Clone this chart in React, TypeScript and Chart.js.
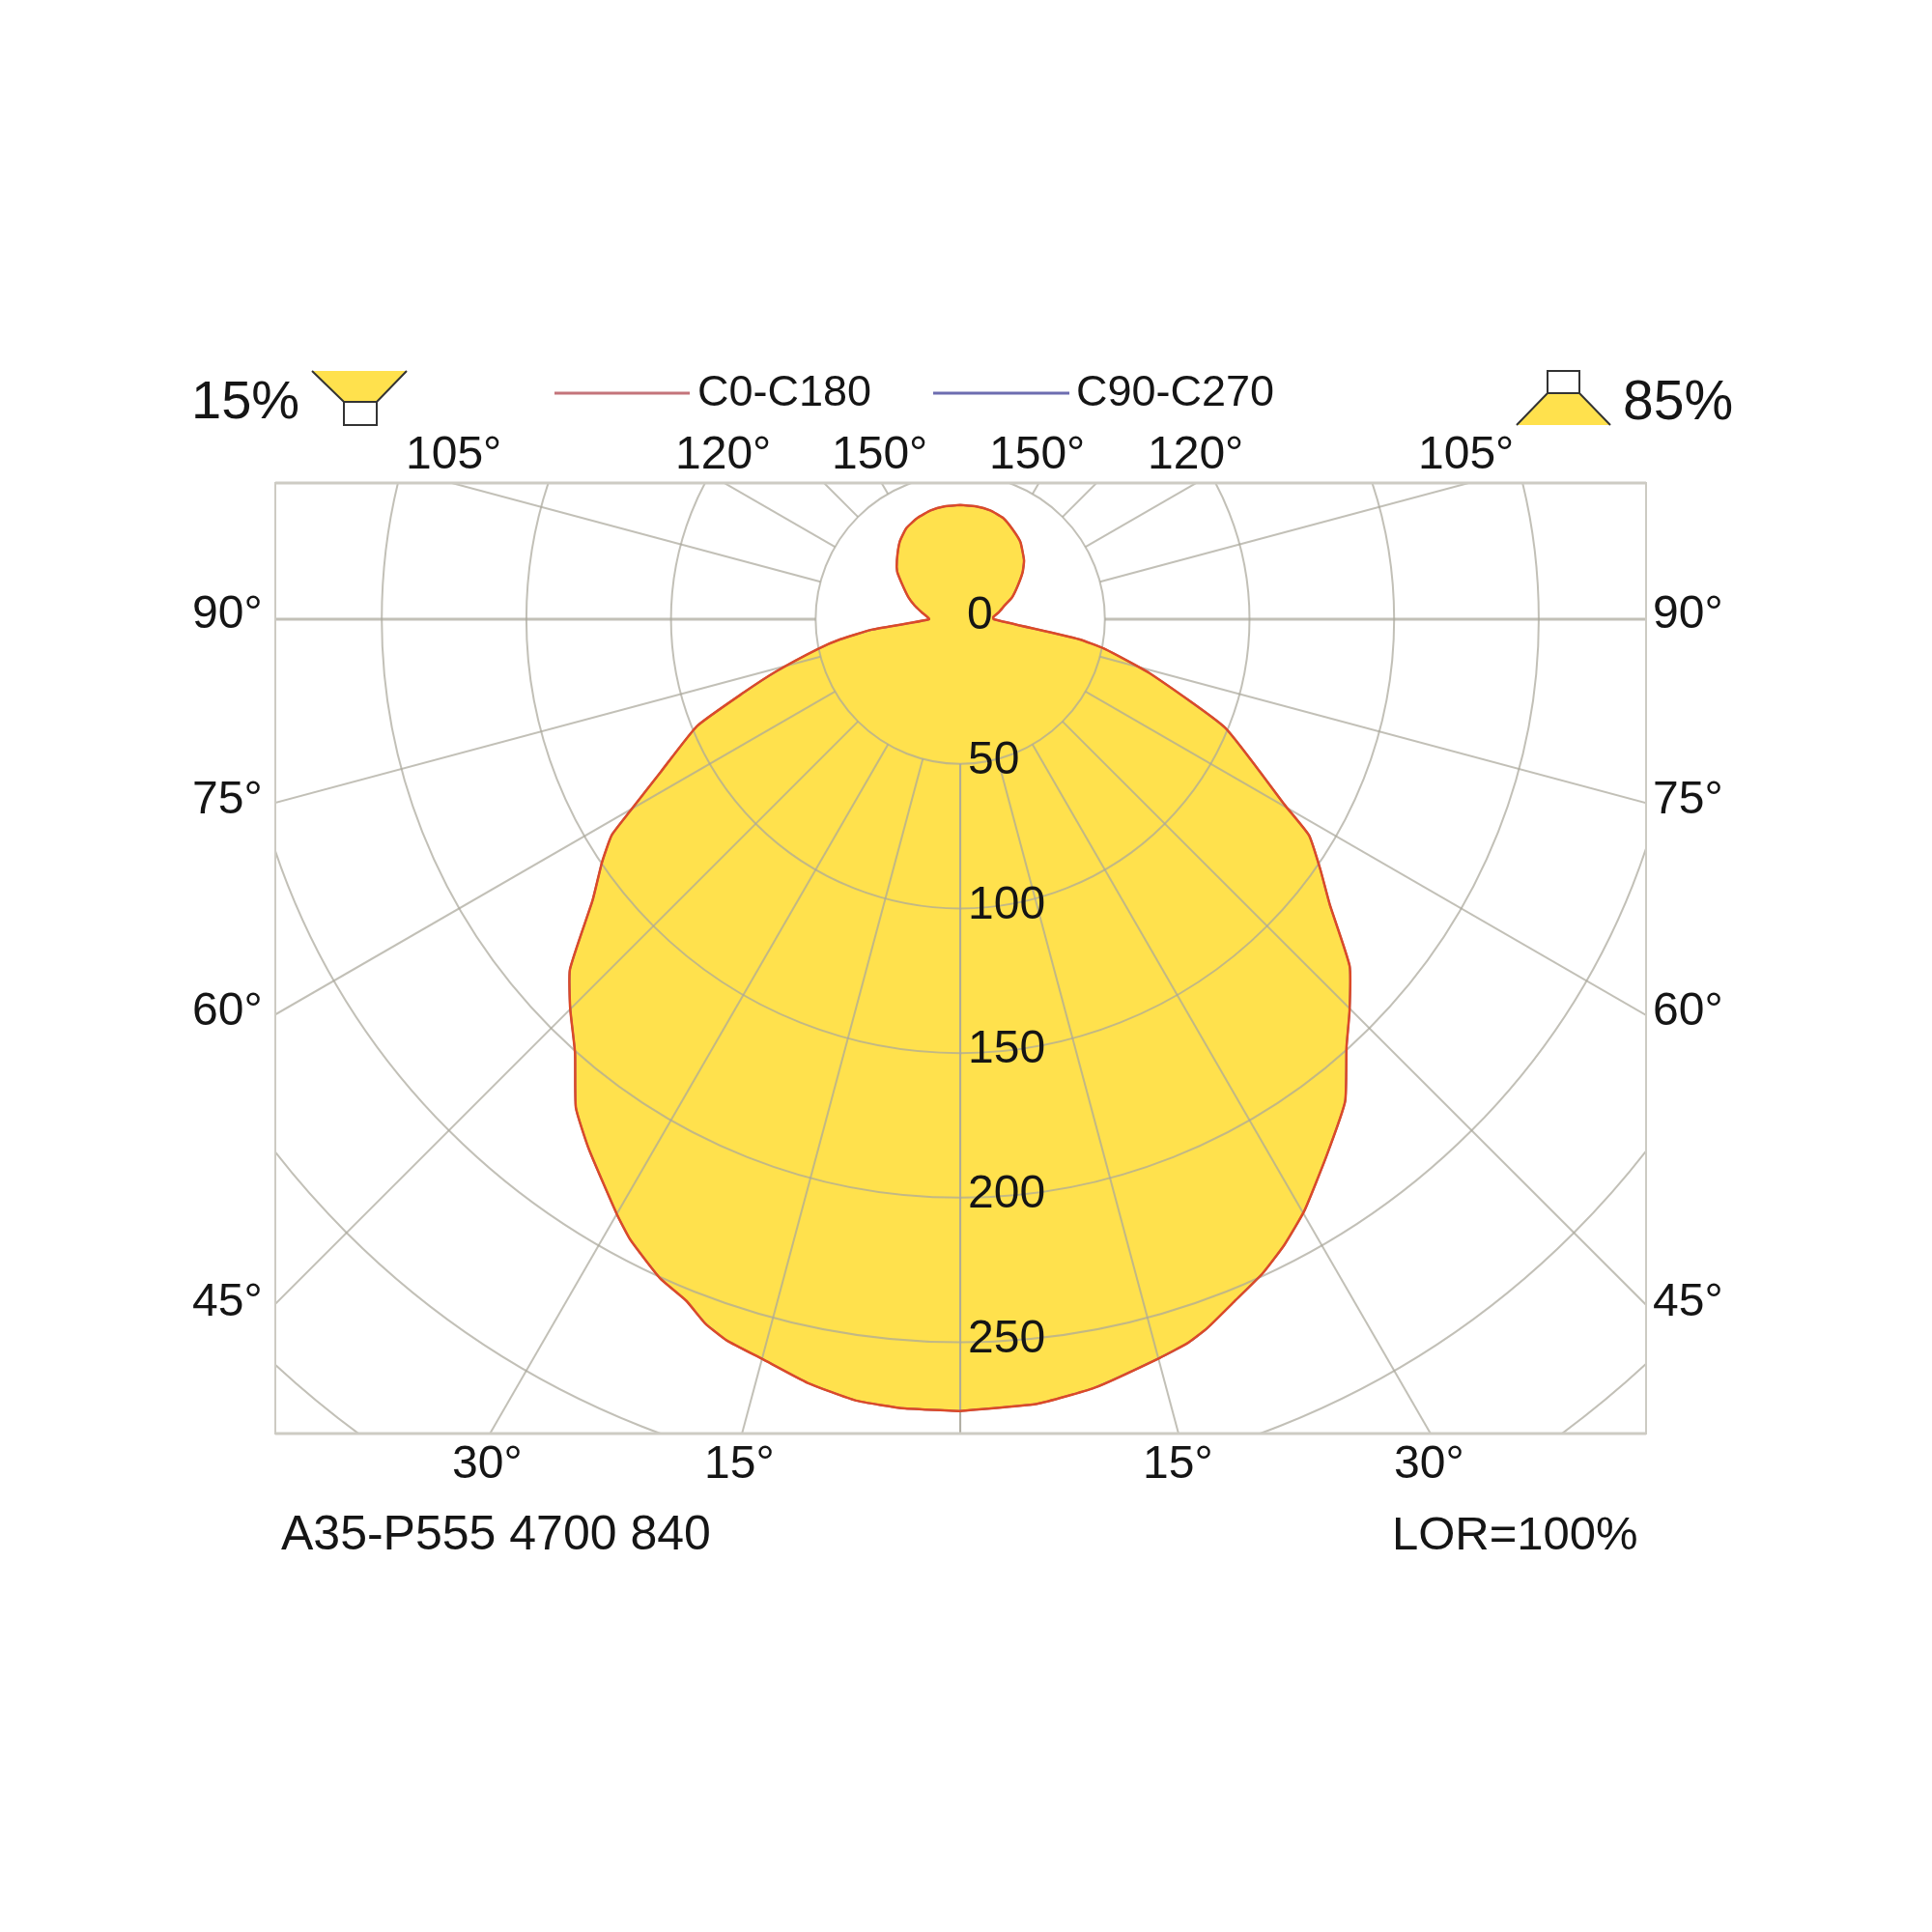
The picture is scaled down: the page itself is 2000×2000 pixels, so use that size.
import React, { useEffect, useRef } from 'react';
import { Chart, registerables } from 'chart.js';

Chart.register(...registerables);

// gamma angle measured from straight down, intensity in cd/klm
const rightGamma = [0, 5.6, 9.9, 15.1, 17.5, 19.2, 21.8, 24.8, 27.4, 30.2, 34.3, 38.6, 42.1, 44.8, 48.3, 52.3, 55.2, 58.2, 60.2, 67.7, 74.1, 78.4, 80.4, 90, 94, 100, 107.3, 113, 120, 127, 132.7, 142, 149.2, 157, 164.6, 172, 180];
const rightIntensity = [273.8, 272.6, 269.8, 264.6, 262.3, 259.6, 254.4, 249.2, 243.6, 236.6, 224.7, 213.3, 199.2, 191, 180.3, 161.5, 151.6, 141.9, 129.3, 99, 68, 50.9, 41.6, 11.5, 11.5, 13.5, 16.1, 19.5, 22.9, 27, 30, 33.8, 35.8, 38, 39, 39.4, 39.5];
const leftGamma = [180, 172, 164.8, 157, 149.4, 142, 132.9, 127, 121.8, 113, 106.8, 100, 90, 83.3, 80.5, 78.2, 74.2, 71.3, 67.9, 62.9, 59.8, 58.2, 55.8, 52.6, 48.1, 45.1, 41.6, 38.2, 35, 30, 28, 24.5, 21.9, 19.9, 17.9, 15, 11.3, 7.6, 4];
const leftIntensity = [39.5, 39.4, 39, 38, 36.6, 34, 29.9, 27.3, 23.9, 19.5, 16.5, 13.5, 10.8, 30.5, 42, 50.3, 66, 79, 98.2, 116.6, 132.2, 141.8, 149.8, 160, 181.3, 190.4, 200.6, 214.9, 223.8, 237.5, 243, 250.4, 254, 259, 262.2, 264.8, 269.3, 272.6, 273.6];

const gridRadii = [50, 100, 150, 200, 250, 300, 350];
const rayAngles = [0, 15, 30, 45, 60, 75, 90, 105, 120, 135, 150, 165];
const radiusTicks = [0, 50, 100, 150, 200, 250];

const topTicks = ['105°', '120°', '150°', '150°', '120°', '105°'];
const sideTicks = ['90°', '75°', '60°', '45°'];
const bottomTicks = ['30°', '15°', '15°', '30°'];

const seriesNames = ['C0-C180', 'C90-C270'];
const flux = ['15%', '85%'];
const footer = ['A35-P555 4700 840', 'LOR=100%'];

const toPoint = (gamma: number, r: number, sign: number) => ({
  x: sign * r * Math.sin((gamma * Math.PI) / 180),
  y: r * Math.cos((gamma * Math.PI) / 180),
});

const outline = [
  ...rightGamma.map((g, i) => toPoint(g, rightIntensity[i], 1)),
  ...leftGamma.map((g, i) => toPoint(g, leftIntensity[i], -1)),
  toPoint(0, rightIntensity[0], 1),
];

const GRID = 'rgba(170,168,155,0.72)';
const FRAME = '#cdcbc3';
const YELLOW = '#ffe14d';
const INK = '#151515';
const FONT = 'Liberation Sans';

const gridPlugin = {
  id: 'polarGrid',
  afterDatasetDraw: (chart: any, args: any) => {
    if (args.index !== 0) return;
    const { ctx, chartArea: a, scales } = chart;
    const cx = scales.x.getPixelForValue(0);
    const cy = scales.y.getPixelForValue(0);
    const unit = scales.x.getPixelForValue(1) - cx;
    ctx.save();
    ctx.beginPath();
    ctx.rect(a.left, a.top, a.right - a.left, a.bottom - a.top);
    ctx.clip();
    ctx.strokeStyle = GRID;
    ctx.lineWidth = 2;
    gridRadii.forEach((r) => {
      ctx.beginPath();
      ctx.arc(cx, cy, r * unit, 0, Math.PI * 2);
      ctx.stroke();
    });
    rayAngles.forEach((g) => {
      [1, -1].forEach((sign) => {
        const from = toPoint(g, gridRadii[0], sign);
        const to = toPoint(g, 600, sign);
        ctx.lineWidth = g === 90 ? 3 : 2;
        ctx.beginPath();
        ctx.moveTo(scales.x.getPixelForValue(from.x), scales.y.getPixelForValue(from.y));
        ctx.lineTo(scales.x.getPixelForValue(to.x), scales.y.getPixelForValue(to.y));
        ctx.stroke();
      });
    });
    ctx.restore();
    ctx.save();
    ctx.strokeStyle = FRAME;
    ctx.lineWidth = 2;
    ctx.strokeRect(a.left, a.top, a.right - a.left, a.bottom - a.top);
    ctx.lineWidth = 3;
    ctx.beginPath();
    ctx.moveTo(a.left, a.top);
    ctx.lineTo(a.right, a.top);
    ctx.moveTo(a.left, a.bottom);
    ctx.lineTo(a.right, a.bottom);
    ctx.stroke();
    ctx.restore();
  },
};

const text = (ctx: any, s: string, x: number, y: number, size: number) => {
  ctx.font = `${size}px "${FONT}"`;
  ctx.fillStyle = INK;
  ctx.textAlign = 'left';
  ctx.textBaseline = 'middle';
  ctx.fillText(s, x, y);
};

const poly = (ctx: any, pts: number[][], fill: string | null) => {
  ctx.beginPath();
  pts.forEach(([x, y], i) => (i ? ctx.lineTo(x, y) : ctx.moveTo(x, y)));
  ctx.closePath();
  if (fill) {
    ctx.fillStyle = fill;
    ctx.fill();
  }
};

const labelsPlugin = {
  id: 'labels',
  afterDraw: (chart: any) => {
    const { ctx, scales } = chart;
    ctx.save();
    const x0 = scales.x.getPixelForValue(0);
    radiusTicks.forEach((r) => {
      text(ctx, String(r), x0 + (r === 0 ? 7 : r < 100 ? 8 : 8), scales.y.getPixelForValue(r) - 3, 48);
    });
    [420, 699, 861, 1024, 1188, 1468].forEach((x, i) => text(ctx, topTicks[i], x, 472, 48));
    [637, 829, 1048, 1349].forEach((y, i) => {
      text(ctx, sideTicks[i], 199, y, 48);
      text(ctx, sideTicks[i], 1711, y, 48);
    });
    [468, 729, 1183, 1443].forEach((x, i) => text(ctx, bottomTicks[i], x, 1517, 48));
    text(ctx, flux[0], 198, 418, 56);
    text(ctx, flux[1], 1680, 418, 57);
    text(ctx, footer[0], 291, 1590, 50);
    text(ctx, footer[1], 1441, 1590, 49);

    // legend
    ctx.lineWidth = 3;
    ctx.strokeStyle = '#c4747a';
    ctx.beginPath();
    ctx.moveTo(574, 407);
    ctx.lineTo(714, 407);
    ctx.stroke();
    ctx.strokeStyle = '#6d6db0';
    ctx.beginPath();
    ctx.moveTo(966, 407);
    ctx.lineTo(1107, 407);
    ctx.stroke();
    text(ctx, seriesNames[0], 722, 408, 45);
    text(ctx, seriesNames[1], 1114, 408, 45);

    // flux icons
    ctx.strokeStyle = '#333';
    ctx.lineWidth = 2;
    poly(ctx, [[323, 384], [421, 384], [390, 416], [356, 416]], YELLOW);
    ctx.beginPath();
    ctx.moveTo(323, 384);
    ctx.lineTo(356, 416);
    ctx.lineTo(390, 416);
    ctx.lineTo(421, 384);
    ctx.stroke();
    ctx.strokeRect(356, 416, 34, 24);
    poly(ctx, [[1602, 407], [1635, 407], [1667, 440], [1570, 440]], YELLOW);
    ctx.beginPath();
    ctx.moveTo(1570, 440);
    ctx.lineTo(1602, 407);
    ctx.lineTo(1635, 407);
    ctx.lineTo(1667, 440);
    ctx.stroke();
    ctx.strokeRect(1602, 384, 33, 23);
    ctx.restore();
  },
};

const App = () => {
  const chartRef = useRef<HTMLCanvasElement>(null);

  useEffect(() => {
    document.body.style.margin = '0';
    const chart = new Chart(chartRef.current as any, {
      type: 'scatter',
      data: {
        datasets: [
          {
            label: 'fill',
            data: outline,
            showLine: true,
            tension: 0.15,
            pointRadius: 0,
            borderWidth: 0,
            borderColor: 'transparent',
            backgroundColor: YELLOW,
            fill: 'shape',
            order: 3,
          },
          {
            label: seriesNames[1],
            data: outline,
            showLine: true,
            tension: 0.15,
            pointRadius: 0,
            borderWidth: 2,
            borderColor: '#6d6db0',
            order: 2,
          },
          {
            label: seriesNames[0],
            data: outline,
            showLine: true,
            tension: 0.15,
            pointRadius: 0,
            borderWidth: 2.5,
            borderColor: '#dc4a28',
            order: 1,
          },
        ],
      } as any,
      options: {
        animation: false,
        responsive: false,
        devicePixelRatio: 1,
        layout: { padding: { left: 285, right: 296, top: 500, bottom: 516 } },
        plugins: { legend: { display: false }, tooltip: { enabled: false } },
        scales: {
          x: { type: 'linear', display: false, min: -236.8, max: 237.1 },
          y: { type: 'linear', display: false, reverse: true, min: -47.1, max: 281.6 },
        },
      } as any,
      plugins: [gridPlugin, labelsPlugin],
    });

    return () => chart.destroy();
  }, []);

  return <canvas ref={chartRef} width={2000} height={2000} style={{ display: 'block', background: '#fff' }} />;
};

export default App;
